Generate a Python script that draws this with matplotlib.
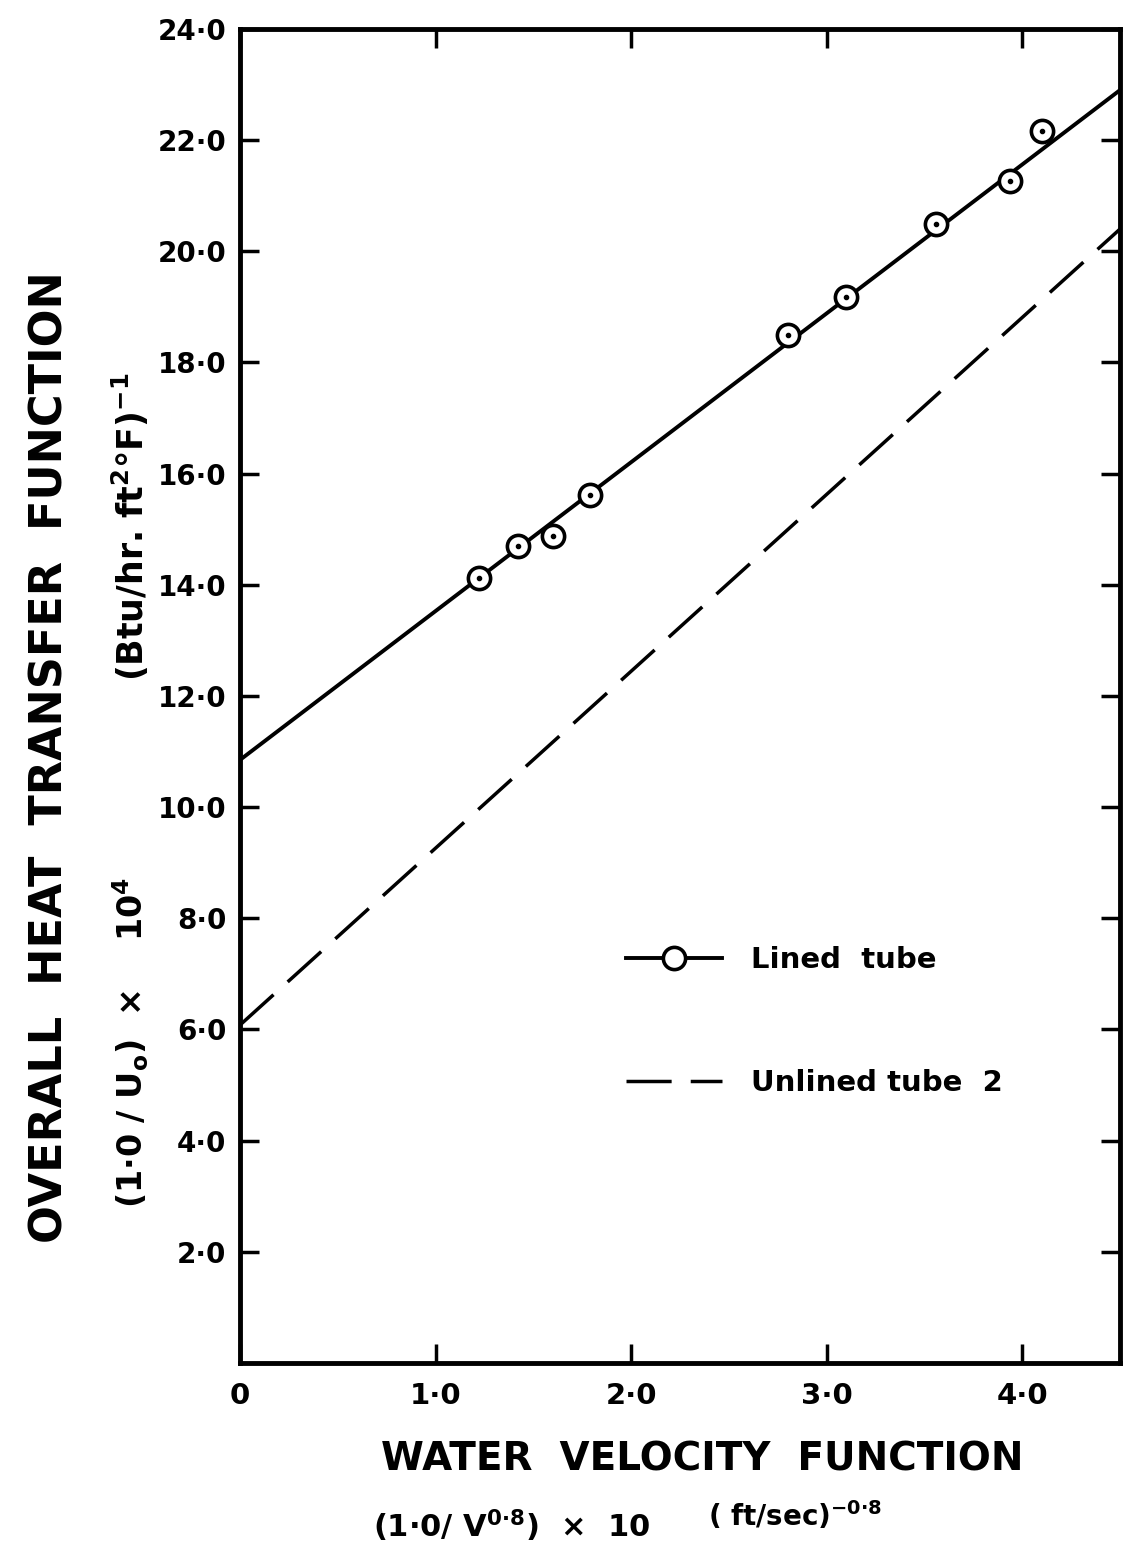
import numpy as np
from matplotlib import pyplot as plt

# datos
x_forrado = [1.22, 1.42, 1.60, 1.79, 2.80, 3.10, 3.56, 3.94, 4.10]
y_forrado = [14.12, 14.69, 14.87, 15.61, 18.49, 19.17, 20.50, 21.26, 22.16]

x_recta = [0.0, 4.5]
y_forrado_recta = [10.85, 22.90]
y_sin_forro = [6.08, 20.40]

xticks = [0, 1, 2, 3, 4]
xlabels = ["0", "1·0", "2·0", "3·0", "4·0"]
yticks = [2, 4, 6, 8, 10, 12, 14, 16, 18, 20, 22, 24]
ylabels = ["2·0", "4·0", "6·0", "8·0", "10·0", "12·0", "14·0", "16·0", "18·0", "20·0", "22·0", "24·0"]

plt.rcParams['font.family'] = ['DejaVu Sans']
plt.rcParams['font.weight'] = 'bold'
plt.rcParams['mathtext.fontset'] = 'dejavusans'
plt.rcParams['mathtext.default'] = 'bf'

fig = plt.figure(figsize=(11.36, 15.58), dpi=100)
ax = fig.add_axes([0.2113, 0.1252, 0.7746, 0.8562])

ax.plot(x_recta, y_forrado_recta, color="black", lw=2.8)
ax.plot(x_recta, y_sin_forro, color="black", lw=2.5, dashes=(13, 5.5))
ax.plot(x_forrado, y_forrado, linestyle="none", marker="o", ms=16,
        mfc="white", mec="black", mew=2.6)
ax.plot(x_forrado, y_forrado, linestyle="none", marker="o", ms=3, color="black")

# leyenda con handles propios
h1, = ax.plot([], [], color="black", lw=2.8, marker="o", ms=16, mfc="white", mec="black", mew=2.6)
h2, = ax.plot([], [], color="black", lw=2.5, dashes=(13, 5.5))
ax.legend([h1, h2], ["Lined  tube", "Unlined tube  2"], loc="upper left",
          bbox_to_anchor=(0.425, 0.321), frameon=False, fontsize=21,
          handlelength=3.3, handletextpad=1.0, labelspacing=3.25, borderaxespad=0)

ax.set_xlim(0, 4.5)
ax.set_ylim(0, 24)
ax.set_xticks(xticks)
ax.set_xticklabels(xlabels)
ax.set_yticks(yticks)
ax.set_yticklabels(ylabels)
ax.tick_params(direction="in", length=14, width=2.5, labelsize=20, pad=10,
               top=True, right=True)
ax.tick_params(axis="x", labelsize=21, pad=14)
for sp in ax.spines.values():
    sp.set_linewidth(3.5)

fig.text(0.044, 0.514, "OVERALL  HEAT  TRANSFER  FUNCTION", rotation=90,
         ha="center", va="center", fontsize=32)
fig.text(0.115, 0.331, r"(1·0 / U$_o$)  ×    10$^4$", rotation=90,
         ha="center", va="center", fontsize=24)
fig.text(0.115, 0.662, r"(Btu/hr. ft$^2$°F)$^{-1}$", rotation=90,
         ha="center", va="center", fontsize=25)

fig.text(0.618, 0.063, "WATER  VELOCITY  FUNCTION", ha="center", va="center", fontsize=28)
fig.text(0.45, 0.021, r"(1·0/ V$^{0·8}$)  ×  10", ha="center", va="center", fontsize=22)
fig.text(0.70, 0.027, r"( ft/sec)$^{-0·8}$", ha="center", va="center", fontsize=20)

fig.savefig("out.png", dpi=100)
